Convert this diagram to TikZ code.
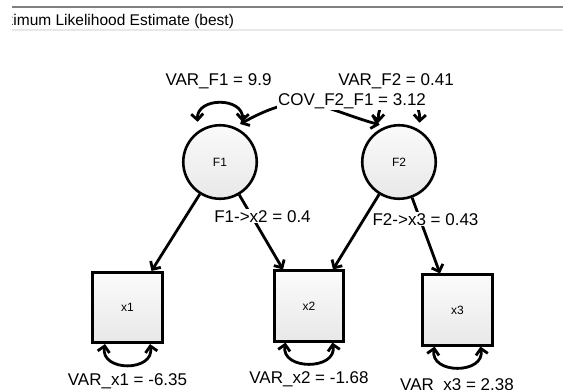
\documentclass[tikz,border=0pt]{standalone}
\usepackage{fontspec}
\setmainfont{Liberation Sans}
\usepackage{tikz}
\usetikzlibrary{arrows.meta, positioning}

\begin{document}
\begin{tikzpicture}[x=1pt, y=-1pt,
    latent/.style={draw, circle, line width=2.6pt, minimum size=73.5pt, inner sep=0pt,
      top color=gray!4, bottom color=gray!18, font=\fontsize{12}{14}\selectfont},
    manifest/.style={draw, rectangle, line width=2.6pt, minimum width=69.5pt, minimum height=70.5pt,
      inner sep=0pt, top color=gray!3, bottom color=gray!18, font=\fontsize{12}{14}\selectfont},
    oneway/.style={line width=2.8pt, -{Straight Barb[length=6pt, width=12pt]}},
    twoway/.style={line width=2.8pt, {Straight Barb[length=6pt, width=12pt]}-{Straight Barb[length=6pt, width=12pt]}},
    est/.style={fill=white, inner sep=1pt, anchor=base, font=\fontsize{17}{20}\selectfont}]

    \useasboundingbox (0,0) rectangle (563,389);

    % header of the estimate window
    \draw[gray, line width=2.3pt] (12,7) -- (563,7);
    \draw[gray!18, line width=1.3pt] (12,30) -- (563,30);
    \begin{scope}
        \clip (12,0) rectangle (563,30);
        \node[anchor=base west, inner sep=0pt, font=\fontsize{15.5}{18}\selectfont] (title) at (5.5,25) {ximum Likelihood Estimate (best)};
    \end{scope}

    \node[latent] (F1) at (220, 162) {F1};
    \node[latent] (F2) at (399, 162) {F2};
    \node[manifest] (x1) at (127.5, 307.5) {x1};
    \node[manifest] (x2) at (309, 306) {x2};
    \node[manifest] (x3) at (457.5, 310) {x3};

    \draw[oneway] (F1) -- ([xshift=24pt]x1.north);
    \draw[oneway] (F1) -- ([xshift=-26pt]x2.north);
    \draw[oneway] (F2) -- ([xshift=24pt]x2.north);
    \draw[oneway] (F2) -- ([xshift=-17.5pt]x3.north);

    % variances of the factors
    \draw[twoway, shorten <=9pt, shorten >=9pt] (F1.125) .. controls +(-2,-34) and +(2,-34) .. (F1.55);
    \draw[twoway, shorten <=7pt, shorten >=7pt] (F2.122) .. controls +(-2,-40) and +(2,-40) .. (F2.58);

    % covariance
    \draw[twoway, shorten <=6pt, shorten >=6pt] (F1.67) .. controls +(70,-39) and +(-67,-19) .. (F2.111);

    % residual variances
    \draw[twoway] ([xshift=-22.5pt]x1.south) .. controls +(-5,28) and +(5,28) .. ([xshift=22.5pt]x1.south);
    \draw[twoway] ([xshift=-23.5pt]x2.south) .. controls +(-5,28) and +(5,28) .. ([xshift=23.5pt]x2.south);
    \draw[twoway] ([xshift=-23pt]x3.south) .. controls +(-5,28) and +(5,28) .. ([xshift=23pt]x3.south);

    \node[est] (vf1) at (218.5, 85) {VAR\_F1 = 9.9};
    \node[est] (vf2) at (396, 85.5) {VAR\_F2 = 0.41};
    \node[est, text depth=4pt] (cov) at (352, 105) {COV\_F2\_F1 = 3.12};
    \node[est] (l12) at (262.5, 222) {F1->x2 = 0.4};
    \node[est] (l23) at (425.5, 225) {F2->x3 = 0.43};
    \node[est] (vx1) at (127.5, 385) {VAR\_x1 = -6.35};
    \node[est] (vx2) at (309, 383.5) {VAR\_x2 = -1.68};
    \node[est] (vx3) at (457, 390) {VAR\_x3 = 2.38};
\end{tikzpicture}
\end{document}
